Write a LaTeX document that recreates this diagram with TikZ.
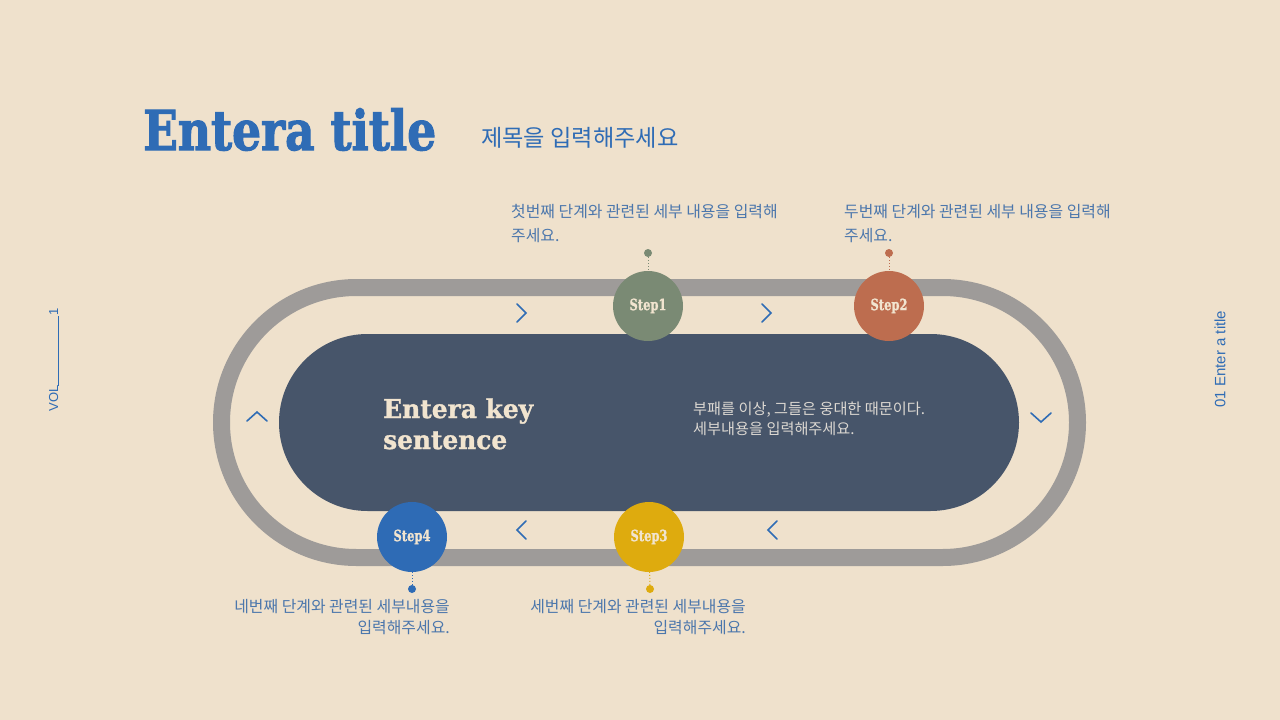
\documentclass[tikz,border=0pt]{standalone}
\usepackage{fontspec}
\usepackage{graphicx}
\setmainfont{DejaVu Serif}
\newfontfamily\kr{Noto Sans CJK KR}
\newfontfamily\slab{DejaVu Serif Bold}[FakeBold=1.2]
\newfontfamily\slabx{DejaVu Serif Bold}[FakeBold=2.2]
\newfontfamily\sansf{Liberation Sans}
\definecolor{bg}{HTML}{EFE1CC}
\definecolor{ttl}{HTML}{2F6CB5}
\definecolor{desc}{HTML}{4C77AC}
\definecolor{track}{HTML}{9E9B99}
\definecolor{dark}{HTML}{47556A}
\definecolor{sage}{HTML}{7A8A74}
\definecolor{terra}{HTML}{BD6D4F}
\definecolor{mustard}{HTML}{DEAB0E}
\definecolor{stepblue}{HTML}{2E6BB5}
\definecolor{cream}{HTML}{F1E4CF}
\definecolor{lighttxt}{HTML}{DCD8D2}
\newcommand{\wfit}[2]{\resizebox{#1}{\height}{#2}}
\begin{document}
\begin{tikzpicture}[x=1pt,y=-1pt,
  stepc/.style={circle,minimum size=70pt,inner sep=0pt,text=cream,
    font=\slab\fontsize{15.5}{17}\selectfont},
  dotc/.style={circle,minimum size=8pt,inner sep=0pt},
  desctxt/.style={inner sep=0pt,text=desc,font=\kr\fontsize{15.9}{24}\selectfont},
  chev/.style={draw=ttl,line width=1.6pt,line cap=round,line join=miter}]
\fill[bg] (0,0) rectangle (1280,720);
\useasboundingbox (0,0) rectangle (1280,720);
% title
\node[anchor=base west,inner sep=0pt,text=ttl,font=\slabx\fontsize{55}{60}\selectfont] (title) at (143,150) {\wfit{293pt}{Entera title}};
\node[anchor=west,inner sep=0pt,text=ttl,font=\kr\fontsize{23.2}{26}\selectfont] (subtitle) at (481,138) {제목을 입력해주세요};
% side texts
\node[rotate=90,inner sep=0pt,text=ttl,font=\sansf\fontsize{13}{15}\selectfont] (vol) at (54,360) {VOL\rule[-1pt]{70pt}{0.8pt}1};
\node[rotate=90,inner sep=0pt,text=ttl,font=\sansf\fontsize{15}{17}\selectfont] (side) at (1220,359) {01 Enter a title};
% track
\draw[track,line width=17pt,rounded corners=135pt] (221.5,287.5) rectangle (1077.5,557.5);
\fill[dark,rounded corners=88.5pt] (279,334) rectangle (1019,511);
% key sentence
\node[anchor=base west,inner sep=0pt,text=cream,font=\slab\fontsize{26}{31}\selectfont] (key) at (383,418) {\wfit{150pt}{Entera key}};
\node[anchor=base west,inner sep=0pt,text=cream,font=\slab\fontsize{26}{31}\selectfont] (key2) at (383,449) {\wfit{124pt}{sentence}};
\node[anchor=west,inner sep=0pt,align=left,text=lighttxt,font=\kr\fontsize{15.2}{20}\selectfont] (keydesc) at (693,419) {부패를 이상, 그들은 웅대한 때문이다.\\세부내용을 입력해주세요.};
% chevrons
\draw[chev] (517,304) -- (526,313) -- (517,322);
\draw[chev] (762,304) -- (771,313) -- (762,322);
\draw[chev] (526,521) -- (517,530) -- (526,539);
\draw[chev] (777,521) -- (768,530) -- (777,539);
\draw[chev] (247,421) -- (257,412) -- (267,421);
\draw[chev] (1031,413) -- (1041,422) -- (1051,413);
% steps
\node[stepc,fill=sage] (s1) at (648,306) {\wfit{37pt}{Step1}};
\node[stepc,fill=terra] (s2) at (889,306) {\wfit{37pt}{Step2}};
\node[stepc,fill=mustard] (s3) at (649,537) {\wfit{37pt}{Step3}};
\node[stepc,fill=stepblue] (s4) at (412,537) {\wfit{37pt}{Step4}};
\node[dotc,fill=sage] (d1) at (648,253) {};
\node[dotc,fill=terra] (d2) at (889,253) {};
\node[dotc,fill=mustard] (d3) at (650,589) {};
\node[dotc,fill=stepblue] (d4) at (412,589) {};
\draw[sage,dotted,line width=1pt] (d1) -- (s1);
\draw[terra,dotted,line width=1pt] (d2) -- (s2);
\draw[mustard,dotted,line width=1pt] (d3) -- (s3);
\draw[stepblue,dotted,line width=1pt] (d4) -- (s4);
% descriptions
\node[desctxt,anchor=north west,align=left] (t1) at (511,204) {첫번째 단계와 관련된 세부 내용을 입력해\\주세요.};
\node[desctxt,anchor=north west,align=left] (t2) at (844,204) {두번째 단계와 관련된 세부 내용을 입력해\\주세요.};
\node[desctxt,anchor=north east,align=right,font=\kr\fontsize{15.9}{21}\selectfont] (t3) at (746,599) {세번째 단계와 관련된 세부내용을\\입력해주세요.};
\node[desctxt,anchor=north east,align=right,font=\kr\fontsize{15.9}{21}\selectfont] (t4) at (450,599) {네번째 단계와 관련된 세부내용을\\입력해주세요.};
\end{tikzpicture}
\end{document}
